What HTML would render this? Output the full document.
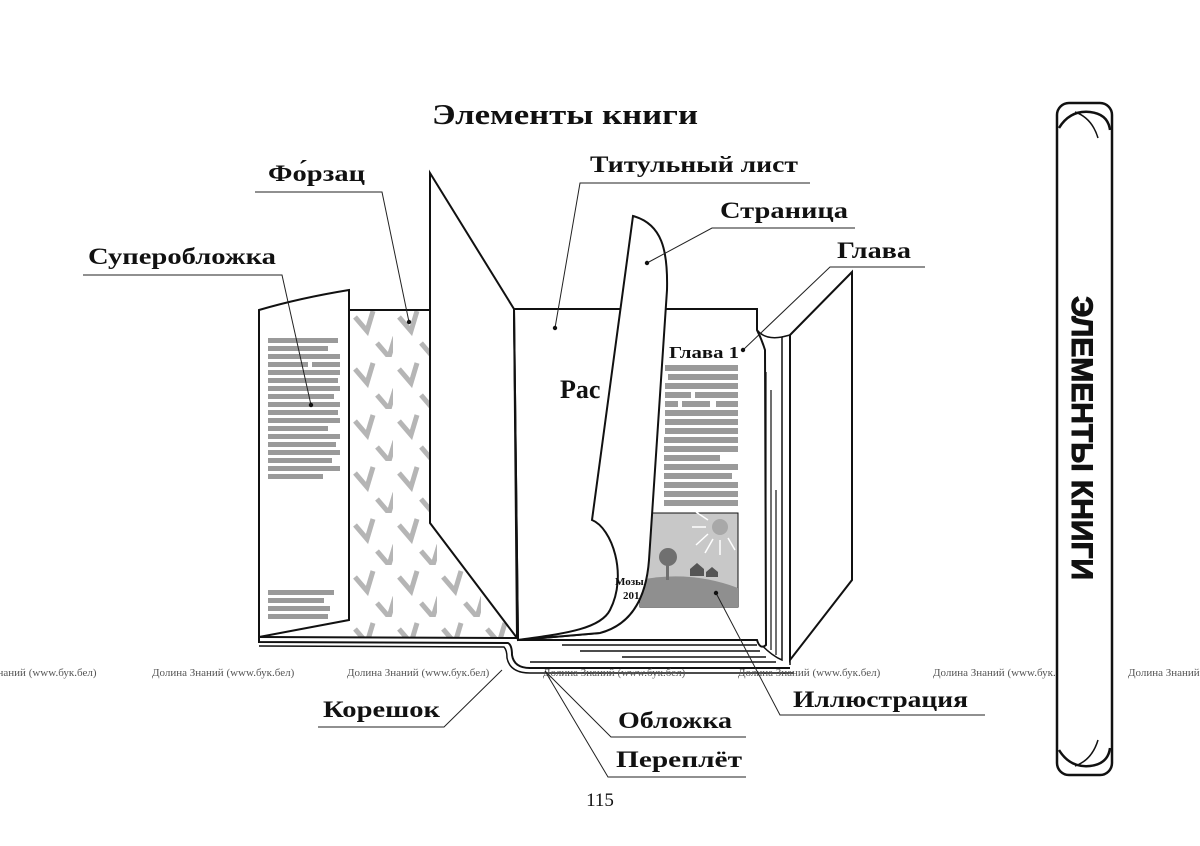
<!DOCTYPE html>
<html><head><meta charset="utf-8"><style>
html,body{margin:0;padding:0;background:#fff;}
svg{display:block;}
.lb{font-family:"Liberation Serif",serif;font-weight:bold;font-size:23px;fill:#111;}
.wm{font-family:"Liberation Serif",serif;font-size:11px;fill:#555;}
</style></head><body>
<svg width="1200" height="846" viewBox="0 0 1200 846" xmlns="http://www.w3.org/2000/svg">
<defs>
<pattern id="chev" x="349" y="305" width="44" height="52" patternUnits="userSpaceOnUse">
<path d="M6,12 L18,26 L24,6" fill="none" stroke="#b5b5b5" stroke-width="5"/>
<path d="M28,38 L40,52 L46,32" fill="none" stroke="#b5b5b5" stroke-width="5"/>
</pattern>
<clipPath id="endc"><polygon points="349,310 430,310 430,523 517,638 349,638"/></clipPath>
</defs>

<text x="432" y="124" font-family="Liberation Serif,serif" font-weight="bold" font-size="28" fill="#111" textLength="266" lengthAdjust="spacingAndGlyphs">Элементы книги</text>

<rect x="349" y="300" width="170" height="340" fill="url(#chev)" clip-path="url(#endc)"/>
<polyline points="349,310 430,310" fill="none" stroke="#111" stroke-width="2"/>

<path d="M259,310 Q300,298 349,290 L349,620 L259,637 Z" fill="#fff" stroke="#111" stroke-width="2"/>
<g fill="#9a9a9a">
<rect x="268" y="338" width="70" height="5"/><rect x="268" y="346" width="60" height="5"/>
<rect x="268" y="354" width="72" height="5"/><rect x="268" y="362" width="40" height="5"/><rect x="312" y="362" width="28" height="5"/>
<rect x="268" y="370" width="72" height="5"/><rect x="268" y="378" width="70" height="5"/>
<rect x="268" y="386" width="72" height="5"/><rect x="268" y="394" width="66" height="5"/>
<rect x="268" y="402" width="72" height="5"/><rect x="268" y="410" width="70" height="5"/>
<rect x="268" y="418" width="72" height="5"/><rect x="268" y="426" width="60" height="5"/>
<rect x="268" y="434" width="72" height="5"/><rect x="268" y="442" width="68" height="5"/>
<rect x="268" y="450" width="72" height="5"/><rect x="268" y="458" width="64" height="5"/>
<rect x="268" y="466" width="72" height="5"/><rect x="268" y="474" width="55" height="5"/>
<rect x="268" y="590" width="66" height="5"/><rect x="268" y="598" width="56" height="5"/>
<rect x="268" y="606" width="62" height="5"/><rect x="268" y="614" width="60" height="5"/>
</g>

<path d="M430,173 L514,309 L517,638 L430,523 Z" fill="#fff" stroke="#111" stroke-width="2"/>

<path d="M259,637 L517,638" stroke="#111" stroke-width="2" fill="none"/>
<path d="M259,637 L259,642 L508,643 Q512,645 512,655 Q514,668 530,668 L790,668" stroke="#111" stroke-width="2" fill="none"/>
<path d="M259,646 L504,647 Q507,650 507,658 Q510,673 530,673 L794,673" stroke="#111" stroke-width="1.5" fill="none"/>

<path d="M790,335 L852,272 L852,580 L790,660 Z" fill="#fff" stroke="#111" stroke-width="2"/>
<path d="M782,337 L790,335 L790,665" fill="none" stroke="#111" stroke-width="1.5"/>
<path d="M757,330 Q765,340 782,337 L782,660 Q770,655 757,640 Z" fill="#fff" stroke="#111" stroke-width="1.5"/>
<g stroke="#111" stroke-width="1.2">
<line x1="761" y1="348" x2="761" y2="640"/><line x1="766" y1="372" x2="766" y2="645"/>
<line x1="771" y1="390" x2="771" y2="650"/><line x1="776" y1="490" x2="776" y2="655"/>
</g>

<path d="M514,309 L757,309 L757,330 Q762,340 765,350 L766,645 Q760,650 757,640 L518,640 Z" fill="#fff" stroke="#111" stroke-width="2"/>
<g stroke="#111" stroke-width="1.5">
<line x1="562" y1="645" x2="757" y2="645"/><line x1="580" y1="651" x2="760" y2="651"/>
<line x1="622" y1="657" x2="766" y2="657"/><line x1="530" y1="662" x2="776" y2="662"/>
</g>
<text x="669" y="358" font-family="Liberation Serif,serif" font-weight="bold" font-size="17" fill="#111" textLength="70" lengthAdjust="spacingAndGlyphs">Глава 1</text>
<g fill="#9a9a9a">
<rect x="665" y="365" width="73" height="6"/><rect x="668" y="374" width="70" height="6"/>
<rect x="665" y="383" width="73" height="6"/><rect x="665" y="392" width="26" height="6"/><rect x="695" y="392" width="43" height="6"/>
<rect x="665" y="401" width="13" height="6"/><rect x="682" y="401" width="28" height="6"/><rect x="716" y="401" width="22" height="6"/>
<rect x="665" y="410" width="73" height="6"/><rect x="665" y="419" width="73" height="6"/>
<rect x="665" y="428" width="73" height="6"/><rect x="664" y="437" width="74" height="6"/>
<rect x="664" y="446" width="74" height="6"/><rect x="664" y="455" width="56" height="6"/>
<rect x="664" y="464" width="74" height="6"/><rect x="664" y="473" width="68" height="6"/>
<rect x="664" y="482" width="74" height="6"/><rect x="664" y="491" width="74" height="6"/>
<rect x="664" y="500" width="74" height="6"/>
</g>
<rect x="640" y="513" width="98" height="94" fill="#c8c8c8" stroke="#111" stroke-width="1"/>
<path d="M640,580 Q690,570 738,588 L738,607 L640,607 Z" fill="#8f8f8f"/>
<circle cx="720" cy="527" r="8" fill="#a8a8a8"/>
<g stroke="#fff" stroke-width="1.5">
<line x1="706" y1="527" x2="692" y2="527"/><line x1="708" y1="534" x2="696" y2="545"/><line x1="713" y1="539" x2="705" y2="553"/><line x1="720" y1="540" x2="720" y2="555"/><line x1="708" y1="520" x2="696" y2="512"/><line x1="728" y1="538" x2="735" y2="550"/>
</g>
<circle cx="668" cy="557" r="9" fill="#707070"/><rect x="666" y="560" width="3" height="20" fill="#707070"/>
<path d="M690,576 L690,569 L697,563 L704,569 L704,576 Z M706,577 L706,572 L712,567 L718,572 L718,577 Z" fill="#555"/>

<path d="M514,309 L518,640 L600,633" fill="none" stroke="#111" stroke-width="2"/>
<text x="560" y="398" font-family="Liberation Serif,serif" font-weight="bold" font-size="26" fill="#111">Рас</text>
<path d="M633,216 C662,224 668,250 667,290 L649,560 C646,600 630,625 600,633 L518,640 C560,634 600,630 610,610 C628,575 612,528 592,520 Z" fill="#fff" stroke="#111" stroke-width="2"/>
<text x="615" y="585" font-family="Liberation Serif,serif" font-weight="bold" font-size="11" fill="#111">Мозы</text>
<text x="623" y="599" font-family="Liberation Serif,serif" font-weight="bold" font-size="11" fill="#111">201</text>

<g class="wm">
<text x="-8" y="676">Знаний (www.бук.бел)</text>
<text x="152" y="676">Долина Знаний (www.бук.бел)</text>
<text x="347" y="676">Долина Знаний (www.бук.бел)</text>
<text x="543" y="676">Долина Знаний (www.бук.бел)</text>
<text x="738" y="676">Долина Знаний (www.бук.бел)</text>
<text x="933" y="676">Долина Знаний (www.бук.бел)</text>
<text x="1128" y="676">Долина Знаний (www.бук.бел)</text>
</g>

<g class="lb">
<text x="268" y="181" textLength="97" lengthAdjust="spacingAndGlyphs">Фо́рзац</text>
<text x="88" y="264" textLength="188" lengthAdjust="spacingAndGlyphs">Суперобложка</text>
<text x="590" y="172" textLength="208" lengthAdjust="spacingAndGlyphs">Титульный лист</text>
<text x="720" y="218" textLength="128" lengthAdjust="spacingAndGlyphs">Страница</text>
<text x="837" y="258" textLength="74" lengthAdjust="spacingAndGlyphs">Глава</text>
<text x="323" y="717" textLength="117" lengthAdjust="spacingAndGlyphs">Корешок</text>
<text x="793" y="707" textLength="175" lengthAdjust="spacingAndGlyphs">Иллюстрация</text>
<text x="618" y="728" textLength="114" lengthAdjust="spacingAndGlyphs">Обложка</text>
<text x="616" y="767" textLength="126" lengthAdjust="spacingAndGlyphs">Переплёт</text>
</g>
<g stroke="#222" stroke-width="1" fill="none">
<polyline points="255,192 382,192 409,322"/>
<polyline points="83,275 282,275 311,405"/>
<polyline points="810,183 580,183 555,328"/>
<polyline points="855,228 712,228 647,263"/>
<polyline points="925,267 830,267 743,350"/>
<polyline points="318,727 444,727 502,670"/>
<polyline points="746,737 611,737 545,671"/>
<polyline points="746,777 608,777 545,671"/>
<polyline points="985,715 780,715 716,593"/>
</g>
<g fill="#111">
<circle cx="409" cy="322" r="2.2"/><circle cx="311" cy="405" r="2.2"/><circle cx="555" cy="328" r="2.2"/>
<circle cx="647" cy="263" r="2.2"/><circle cx="743" cy="350" r="2.2"/><circle cx="716" cy="593" r="2.2"/>
</g>

<text x="600" y="806" text-anchor="middle" font-family="Liberation Serif,serif" font-size="19" fill="#111">115</text>

<rect x="1057" y="103" width="55" height="672" rx="12" fill="#fff" stroke="#111" stroke-width="2.5"/>
<path d="M1059,128 Q1070,110 1090,112 Q1108,114 1110,130" fill="none" stroke="#111" stroke-width="2.5"/>
<path d="M1075,112 Q1092,118 1098,138" fill="none" stroke="#111" stroke-width="1.5"/>
<path d="M1059,750 Q1070,768 1090,766 Q1108,764 1110,748" fill="none" stroke="#111" stroke-width="2.5"/>
<path d="M1075,766 Q1092,760 1098,740" fill="none" stroke="#111" stroke-width="1.5"/>
<text transform="translate(1072,296) rotate(90)" font-family="Liberation Sans,sans-serif" font-weight="bold" font-size="30" fill="#111" stroke="#111" stroke-width="1" textLength="284" lengthAdjust="spacingAndGlyphs">ЭЛЕМЕНТЫ КНИГИ</text>
</svg>
</body></html>
